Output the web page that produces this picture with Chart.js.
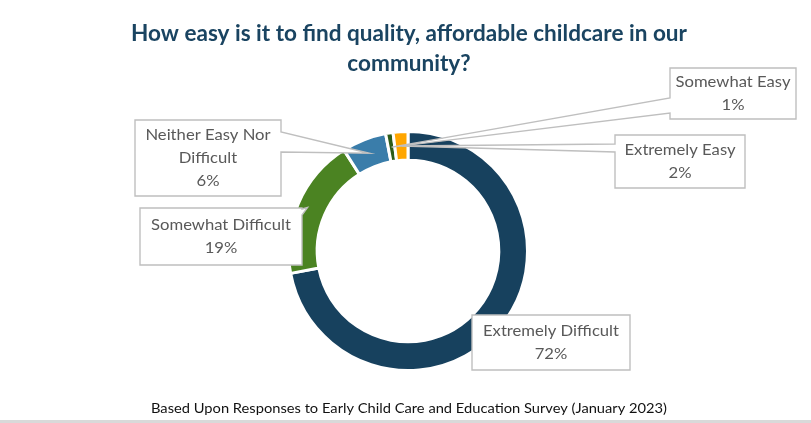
<!DOCTYPE html>
<html><head><meta charset="utf-8">
<script src="https://cdn.jsdelivr.net/npm/chart.js@4/dist/chart.umd.min.js"></script>
<style>html,body{margin:0;padding:0;background:#fff;overflow:hidden}#wrap{width:811px;height:423px;position:relative}</style>
</head><body><div id="wrap"><canvas id="c" width="811" height="423"></canvas></div>
<script>
const titleLines = ['How easy is it to find quality, affordable childcare in our', 'community?'];
const footnote = 'Based Upon Responses to Early Child Care and Education Survey (January 2023)';
const categories = ['Extremely Difficult', 'Somewhat Difficult', 'Neither Easy Nor Difficult', 'Somewhat Easy', 'Extremely Easy'];
const values = [72, 19, 6, 1, 2];
const labelLines = [['Extremely Difficult'], ['Somewhat Difficult'], ['Neither Easy Nor', 'Difficult'], ['Somewhat Easy'], ['Extremely Easy']];
const colors = ['#17415e', '#4b8322', '#3a7daa', '#2d5c19', '#ffa600'];

// callout layout (box x, y, w, h; wedge edge, base offsets, tip depth in ring)
const callouts = [
  {box: [472, 315, 158, 55], edge: null},
  {box: [140, 208, 162, 57], edge: 'right', a: 1, b: 7, frac: 0.65},
  {box: [135, 120, 146, 76], edge: 'right', a: 12, b: 32, frac: 0.5},
  {box: [670, 68, 126, 51], edge: 'left', a: 30, b: 45, frac: 0.5},
  {box: [615, 135, 130, 53], edge: 'left', a: 9, b: 17, frac: 0.5}
];

// draw text at a given size, squeezed horizontally to a target width (Calibri-like proportions)
function squeezedText(ctx, font, text, cx, cy, targetW) {
  ctx.font = font;
  const w = ctx.measureText(text).width;
  ctx.save();
  ctx.translate(cx, cy);
  ctx.scale(targetW / w, 1);
  ctx.fillText(text, 0, 0);
  ctx.restore();
  return targetW / w;
}

const decor = {
  id: 'decor',
  afterDatasetsDraw(chart) {
    const ctx = chart.ctx;
    const meta = chart.getDatasetMeta(0);
    ctx.save();
    ctx.textAlign = 'center';
    ctx.textBaseline = 'middle';
    // title
    ctx.fillStyle = '#1a4461';
    const tFont = 'bold 22px Lato';
    const sx = squeezedText(ctx, tFont, titleLines[0], 409, 34, 556);
    ctx.font = tFont;
    const w2 = ctx.measureText(titleLines[1]).width * sx;
    squeezedText(ctx, tFont, titleLines[1], 409, 64, w2);
    // footnote
    ctx.fillStyle = '#111';
    squeezedText(ctx, '14px Lato', footnote, 409, 408, 516);
    ctx.fillStyle = '#d9d9d9';
    ctx.fillRect(0, 420, 811, 3);
    // callouts
    ctx.font = '16px Lato';
    const lsx = 136 / ctx.measureText('Extremely Difficult').width;
    callouts.forEach((c, i) => {
      const arc = meta.data[i];
      const p = arc.getProps(['x', 'y', 'startAngle', 'endAngle', 'innerRadius', 'outerRadius'], true);
      const mid = (p.startAngle + p.endAngle) / 2;
      const [x, y, w, h] = c.box;
      const pts = [];
      const TL = [x, y], TR = [x + w, y], BR = [x + w, y + h], BL = [x, y + h];
      if (c.edge) {
        const r = p.innerRadius + (p.outerRadius - p.innerRadius) * c.frac;
        const tip = [p.x + Math.cos(mid) * r, p.y + Math.sin(mid) * r];
        if (c.edge === 'top') pts.push(TL, [x + c.a, y], tip, [x + c.b, y], TR, BR, BL);
        else if (c.edge === 'right') pts.push(TL, TR, [x + w, y + c.a], tip, [x + w, y + c.b], BR, BL);
        else if (c.edge === 'bottom') pts.push(TL, TR, BR, [x + c.b, y + h], tip, [x + c.a, y + h], BL);
        else pts.push(TL, TR, BR, BL, [x, y + c.b], tip, [x, y + c.a]);
      } else {
        pts.push(TL, TR, BR, BL);
      }
      ctx.beginPath();
      pts.forEach((q, k) => k ? ctx.lineTo(q[0], q[1]) : ctx.moveTo(q[0], q[1]));
      ctx.closePath();
      ctx.fillStyle = '#ffffff';
      ctx.fill();
      ctx.strokeStyle = '#bfbfbf';
      ctx.lineWidth = 1.4;
      ctx.stroke();
      const lines = labelLines[i].concat([values[i] + '%']);
      const lh = 23;
      const cy = y + h / 2;
      ctx.fillStyle = '#595959';
      lines.forEach((t, k) => {
        ctx.font = '16px Lato';
        const tw = ctx.measureText(t).width * lsx;
        squeezedText(ctx, '16px Lato', t, x + w / 2, cy + (k - (lines.length - 1) / 2) * lh, tw);
      });
    });
    ctx.restore();
  }
};

new Chart(document.getElementById('c'), {
  type: 'doughnut',
  data: {
    labels: categories,
    datasets: [{
      data: values,
      backgroundColor: colors,
      borderColor: '#ffffff',
      borderWidth: 3,
      hoverOffset: 0
    }]
  },
  options: {
    responsive: false,
    animation: false,
    devicePixelRatio: 1,
    cutout: '76%',
    layout: {padding: {left: 287, right: 282, top: 130, bottom: 51}},
    plugins: {legend: {display: false}, tooltip: {enabled: false}, title: {display: false}}
  },
  plugins: [decor]
});
</script></body></html>
